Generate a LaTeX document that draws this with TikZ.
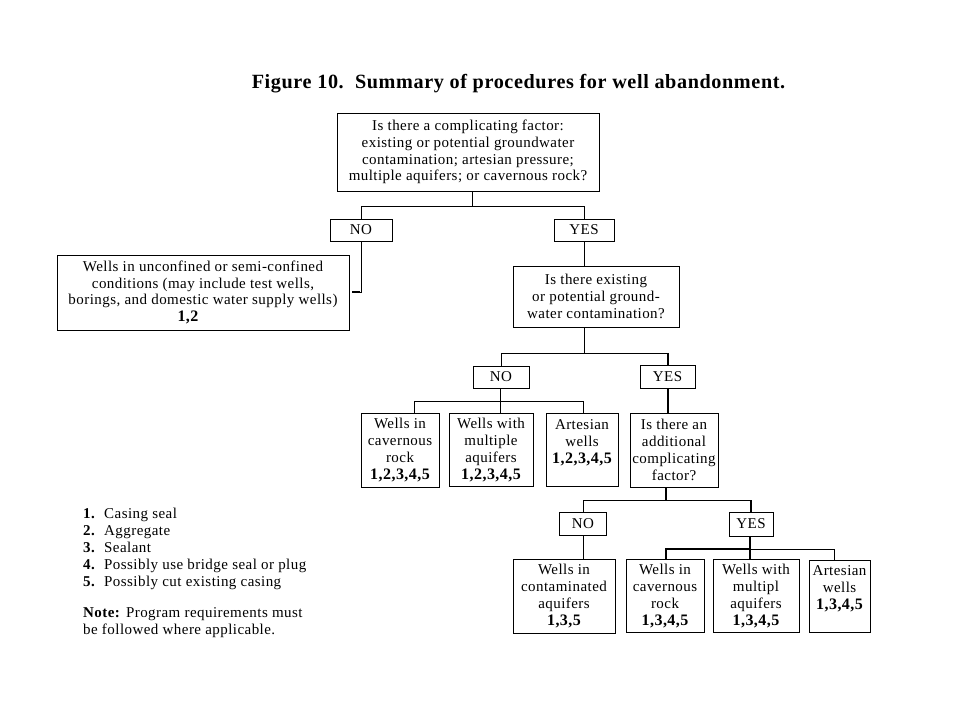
\documentclass[tikz,border=0pt]{standalone}
\usepackage{fontspec}
\setmainfont{Liberation Serif}[LetterSpace=3]
\usetikzlibrary{calc}
\newcommand{\numb}[1]{{\fontsize{16}{16.8}\selectfont\bfseries #1}}
\begin{document}
\begin{tikzpicture}[x=1pt,y=-1pt,
  font=\fontsize{15}{16.8}\selectfont,
  box/.style={draw, line width=0.9pt, inner sep=0pt, align=center},
  ln/.style={line width=0.9pt},
  lnthick/.style={line width=2pt},
  leg/.style={anchor=base west, inner sep=0pt}]
\useasboundingbox[fill=white] (0,0) rectangle (959,719);

\node[font=\fontsize{20.2}{24}\selectfont\bfseries] (title) at (518.5,84) {Figure 10.\ \ Summary of procedures for well abandonment.};

\node[box, minimum width=262pt, minimum height=78pt] (top) at (468,152) {Is there a complicating factor:\\ existing or potential groundwater\\ contamination; artesian pressure;\\ multiple aquifers; or cavernous rock?};
\node[box, minimum width=62pt, minimum height=22pt] (no1) at (361,230) {NO};
\node[box, minimum width=60pt, minimum height=22pt] (yes1) at (584,230) {YES};
\node[box, minimum width=292pt, minimum height=75pt] (left) at (203,292.5) {Wells in unconfined or semi-confined\\ conditions (may include test wells,\\ borings, and domestic water supply wells)\\ \numb{1,2}\hspace*{30pt}};
\node[box, minimum width=166pt, minimum height=61pt] (q2) at (596,296.5) {Is there existing\\ or potential ground-\\ water contamination?};
\node[box, minimum width=56pt, minimum height=22pt] (no2) at (501,377) {NO};
\node[box, minimum width=55pt, minimum height=23pt] (yes2) at (667.5,376.5) {YES};
\node[box, minimum width=78pt, minimum height=74pt] (cav1) at (400,450) {Wells in\\ cavernous\\ rock\\ \numb{1,2,3,4,5}};
\node[box, minimum width=84pt, minimum height=73pt] (mult1) at (491,450) {Wells with\\ multiple\\ aquifers\\ \numb{1,2,3,4,5}};
\node[box, minimum width=72pt, minimum height=73pt] (art1) at (582,450) {Artesian\\ wells\\ \numb{1,2,3,4,5}\\ ~};
\node[box, minimum width=88pt, minimum height=74pt] (q3) at (674,450) {Is there an\\ additional\\ complicating\\ factor?};
\node[box, minimum width=47pt, minimum height=23pt] (no3) at (583,524) {NO};
\node[box, minimum width=44pt, minimum height=24pt] (yes3) at (751,524) {YES};
\node[box, minimum width=102pt, minimum height=74pt] (cont) at (564,596) {Wells in\\ contaminated\\ aquifers\\ \numb{1,3,5}};
\node[box, minimum width=78pt, minimum height=73pt] (cav2) at (665,596) {Wells in\\ cavernous\\ rock\\ \numb{1,3,4,5}};
\node[box, minimum width=86pt, minimum height=73pt] (mult2) at (756,596) {Wells with\\ multipl\\ aquifers\\ \numb{1,3,4,5}};
\node[box, minimum width=61pt, minimum height=72pt] (art2) at (839.5,596) {Artesian\\ wells\\ \numb{1,3,4,5}\\ ~};

% connectors
\coordinate (j1) at (472,206);
\draw[ln] (top.south -| j1) -- (j1);
\draw[ln] (no1.north) -- (no1.north |- j1) -- (yes1.north |- j1) -- (yes1.north);

\draw[ln] (no1.south) |- ($(left.east)+(3,0)$);
\draw[lnthick] ($(left.east)+(3,0)$) -- ++(8,0);

\draw[ln] (yes1.south) -- (yes1.south |- q2.north);

\coordinate (j2) at (584,353);
\draw[ln] (q2.south -| j2) -- (j2);
\draw[ln] (no2.north) -- (no2.north |- j2) -- (yes2.north |- j2);
\draw[lnthick] (yes2.north |- j2) -- (yes2.north);

\coordinate (j3) at (500,401);
\coordinate (b1) at (414,401);
\coordinate (b3) at (583,401);
\draw[ln] (no2.south -| j3) -- (j3);
\draw[ln] (b1 |- cav1.north) -- (b1) -- (b3) -- (b3 |- art1.north);
\draw[ln] (j3) -- (j3 |- mult1.north);

\draw[lnthick] (yes2.south) -- (yes2.south |- q3.north);

\coordinate (j4) at (666,500);
\draw[lnthick] (q3.south -| j4) -- (j4);
\draw[ln] (no3.north) -- (no3.north |- j4) -- (yes3.north |- j4);
\draw[lnthick] (yes3.north |- j4) -- (yes3.north);

\draw[ln] (no3.south) -- (no3.south |- cont.north);

\coordinate (j5) at (750,549);
\coordinate (c1) at (666,549);
\coordinate (c3) at (834,549);
\draw[lnthick] (yes3.south -| j5) -- (j5);
\draw[lnthick] (c1 |- cav2.north) -- (c1) -- (j5);
\draw[ln] (j5) -- (c3) -- (c3 |- art2.north);
\draw[lnthick] (j5) -- (j5 |- mult2.north);

% legend
\node[leg] (l1) at (83,518) {\makebox[21pt][l]{\textbf{1.}}Casing seal};
\node[leg] (l2) at (83,535) {\makebox[21pt][l]{\textbf{2.}}Aggregate};
\node[leg] (l3) at (83,552) {\makebox[21pt][l]{\textbf{3.}}Sealant};
\node[leg] (l4) at (83,569) {\makebox[21pt][l]{\textbf{4.}}Possibly use bridge seal or plug};
\node[leg] (l5) at (83,586) {\makebox[21pt][l]{\textbf{5.}}Possibly cut existing casing};
\node[leg] (n1) at (83,617) {\textbf{Note:} Program requirements must};
\node[leg] (n2) at (83,634) {be followed where applicable.};
\end{tikzpicture}
\end{document}
